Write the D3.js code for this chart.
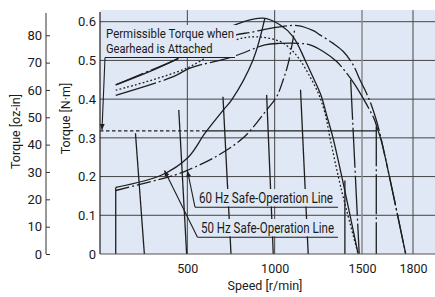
<!DOCTYPE html>
<html>
<head>
<meta charset="utf-8">
<script src="https://cdn.jsdelivr.net/npm/d3@7"></script>
<style>
  body { margin: 0; background: #fff; }
  text { font-family: Roboto, "Liberation Sans", sans-serif; fill: #1a1a1a; }
</style>
</head>
<body>
<svg></svg>
<script>
let w = 435;
let h = 297;

// ticks
const speedTicks = [500, 1000, 1500, 1800];
const torqueTicks = [0, 0.1, 0.2, 0.3, 0.4, 0.5, 0.6];
const ozTicks = [0, 10, 20, 30, 40, 50, 60, 70, 80];
const ozPerNm = 141.6;

// permissible torque with gearhead [N·m]
const permTorque = 0.318;
const permDashed = [[0, permTorque], [600, permTorque]];
const permSolid = [[600, permTorque], [1584, permTorque]];

// motor speed-torque curves [r/min, N·m]
const curve50Solid = [[90, .437], [410, .497], [773, .592], [933, .609], [1030, .592], [1106, .561], [1175, .50], [1221, .455], [1265, .41], [1300, .355], [1334, .30], [1389, .19], [1478, 0]];
const curve50Dotted = [[90, .423], [496, .48], [778, .553], [897, .561], [1030, .549], [1097, .527], [1145, .501], [1202, .458], [1250, .415], [1288, .364], [1317, .299], [1380, .17], [1478, 0]];
const curve60DashDot = [[90, .437], [410, .497], [778, .566], [859, .572], [973, .583], [1130, .59], [1221, .577], [1259, .566], [1335, .544], [1393, .523], [1450, .488], [1488, .45], [1517, .424], [1555, .385], [1584, .346], [1612, .299], [1757, 0]];
const curve60Long = [[90, .41], [420, .458], [515, .48], [763, .51], [944, .54], [1030, .544], [1145, .544], [1202, .54], [1278, .523], [1355, .497], [1412, .467], [1460, .437], [1507, .402], [1545, .372], [1574, .346], [1593, .32], [1612, .295], [1757, 0]];

// safe-operation lines
const safe50 = [[90, .172], [353, .204], [505, .25], [601, .312], [706, .372], [754, .398], [876, .501], [944, .609]];
const safe60 = [[90, .164], [429, .204], [505, .217], [658, .25], [820, .30], [954, .372], [1011, .406], [1049, .45], [1078, .493], [1116, .583]];

// speed setting lines
const settingSolid = [
  [[90, 0], [90, .172]],
  [[203, .312], [254, 0]],
  [[451, .372], [496, 0]],
  [[704, .406], [750, 0]],
  [[954, .411], [992, 0]],
  [[1148, .424], [1192, 0]],
  [[1402, .19], [1402, 0]]
];
const settingDashDot = [
  [[1435, .45], [1484, 0]],
  [[1584, .33], [1584, 0]]
];

const svg = d3.select('svg')
  .attr('width', w)
  .attr('height', h);

const x = d3.scaleLinear()
  .domain([0, 1500, 1800])
  .range([100, 362, 413]);

const y = d3.scaleLinear()
  .domain([0, 0.6])
  .range([254, 21.7]);

const yOz = d3.scaleLinear()
  .domain([0, 0.6 * ozPerNm])
  .range([254, 21.7]);

const plotTop = y(0.63);
const bg = '#e0e8f5';
const ink = '#1e1e1e';

// plot area
svg.append('rect')
  .attr('x', x(0)).attr('y', plotTop)
  .attr('width', w - x(0)).attr('height', y(0) - plotTop)
  .attr('fill', bg);

// grid
svg.append('g').selectAll('line')
  .data(torqueTicks.filter(d => d > 0))
  .enter().append('line')
  .attr('x1', x(0)).attr('x2', w)
  .attr('y1', d => y(d)).attr('y2', d => y(d))
  .attr('stroke', '#444').attr('stroke-width', 1);

svg.append('g').selectAll('line')
  .data(speedTicks)
  .enter().append('line')
  .attr('x1', d => x(d)).attr('x2', d => x(d))
  .attr('y1', plotTop).attr('y2', y(0))
  .attr('stroke', d => d === 1500 ? '#8a8a8a' : '#444')
  .attr('stroke-width', d => d === 1500 ? 1.5 : 1);

const line = d3.line().x(d => x(d[0])).y(d => y(d[1]));
const smooth = d3.line().x(d => x(d[0])).y(d => y(d[1])).curve(d3.curveCatmullRom.alpha(0.5));

function draw(gen, data, dash) {
  svg.append('path')
    .attr('d', gen(data))
    .attr('fill', 'none')
    .attr('stroke', ink)
    .attr('stroke-width', 1.3)
    .attr('stroke-dasharray', dash || null);
}

// permissible torque
draw(line, permDashed, '3.5,2.5');
draw(line, permSolid);

// setting lines
settingSolid.forEach(d => draw(line, d));
settingDashDot.forEach(d => draw(line, d, '40,3,2,3'));

// motor curves
draw(smooth, curve50Solid);
draw(smooth, curve50Dotted, '1.8,2.2');
draw(smooth, curve60DashDot, '30,3,2,3');
draw(smooth, curve60Long, '42,3,2,3');

// safe-operation lines
draw(smooth, safe50);
draw(smooth, safe60, '14,3,2,3');

// axes
svg.append('line')
  .attr('x1', x(0)).attr('x2', x(0))
  .attr('y1', plotTop + 2).attr('y2', y(0))
  .attr('stroke', ink).attr('stroke-width', 1.2);
svg.append('line')
  .attr('x1', x(0)).attr('x2', w)
  .attr('y1', y(0)).attr('y2', y(0))
  .attr('stroke', '#555').attr('stroke-width', 1.2);

const yAxis = d3.axisLeft(y)
  .tickValues(torqueTicks)
  .tickSize(0)
  .tickPadding(4)
  .tickFormat(d => d === 0 ? '0' : d.toFixed(1));
svg.append('g')
  .attr('transform', 'translate(' + x(0) + ',0)')
  .call(yAxis)
  .call(g => g.select('.domain').remove())
  .selectAll('text').attr('font-size', 13).attr('fill', '#1a1a1a');

const ozAxis = d3.axisLeft(yOz)
  .tickValues(ozTicks)
  .tickSize(-4)
  .tickPadding(4);
svg.append('g')
  .attr('transform', 'translate(46,0)')
  .call(ozAxis)
  .call(g => g.select('.domain').remove())
  .call(g => g.selectAll('.tick line').attr('stroke', '#333'))
  .selectAll('text').attr('font-size', 13).attr('fill', '#1a1a1a');
svg.append('line')
  .attr('x1', 46).attr('x2', 46)
  .attr('y1', 13).attr('y2', y(0))
  .attr('stroke', '#333').attr('stroke-width', 1);

const xAxis = d3.axisBottom(x)
  .tickValues(speedTicks)
  .tickSize(0)
  .tickPadding(10)
  .tickFormat(d3.format('d'));
svg.append('g')
  .attr('transform', 'translate(0,' + y(0) + ')')
  .call(xAxis)
  .call(g => g.select('.domain').remove())
  .selectAll('text').attr('font-size', 12.5).attr('fill', '#1a1a1a');

// axis titles
svg.append('text')
  .attr('x', 265).attr('y', 290)
  .attr('text-anchor', 'middle').attr('font-size', 12.5)
  .text('Speed [r/min]');
svg.append('text')
  .attr('transform', 'translate(20,131.5) rotate(-90)')
  .attr('text-anchor', 'middle').attr('font-size', 12.5)
  .text('Torque [oz-in]');
svg.append('text')
  .attr('transform', 'translate(70,118.5) rotate(-90)')
  .attr('text-anchor', 'middle').attr('font-size', 12.5)
  .text('Torque [N·m]');

// arrow marker
svg.append('defs').append('marker')
  .attr('id', 'arr')
  .attr('markerUnits', 'userSpaceOnUse')
  .attr('markerWidth', 7).attr('markerHeight', 6)
  .attr('refX', 6).attr('refY', 2.5)
  .attr('orient', 'auto')
  .append('path').attr('d', 'M0,0 L6,2.5 L0,5 z').attr('fill', ink);

// labels with leaders
function label(box, lines, under, tip, size) {
  svg.append('rect')
    .attr('x', box[0]).attr('y', box[1])
    .attr('width', box[2]).attr('height', box[3])
    .attr('fill', bg);
  lines.forEach(l => {
    svg.append('text')
      .attr('x', l.x).attr('y', l.y)
      .attr('font-size', size)
      .attr('textLength', l.len)
      .attr('lengthAdjust', 'spacingAndGlyphs')
      .text(l.t);
  });
  svg.append('line')
    .attr('x1', under[0]).attr('x2', under[1])
    .attr('y1', under[2]).attr('y2', under[2])
    .attr('stroke', ink).attr('stroke-width', 1.1);
  svg.append('line')
    .attr('x1', under[0]).attr('y1', under[2])
    .attr('x2', tip[0]).attr('y2', tip[1])
    .attr('stroke', ink).attr('stroke-width', 1.1)
    .attr('marker-end', 'url(#arr)');
}

label([104, 25, 132, 32],
  [{ t: 'Permissible Torque when', x: 106, y: 38.3, len: 128 },
   { t: 'Gearhead is Attached', x: 106, y: 52.8, len: 106.5 }],
  [105, 235, 57.5], [102, y(permTorque) - 1], 13.2);

label([196, 189, 143, 17.5],
  [{ t: '60 Hz Safe-Operation Line', x: 199, y: 203, len: 134 }],
  [195, 338, 207.2], [187.5, 171], 14.5);

label([197, 219, 142, 17.5],
  [{ t: '50 Hz Safe-Operation Line', x: 201, y: 233, len: 133 }],
  [197.5, 338, 237.2], [164.5, 170.5], 14.5);
</script>
</body>
</html>
